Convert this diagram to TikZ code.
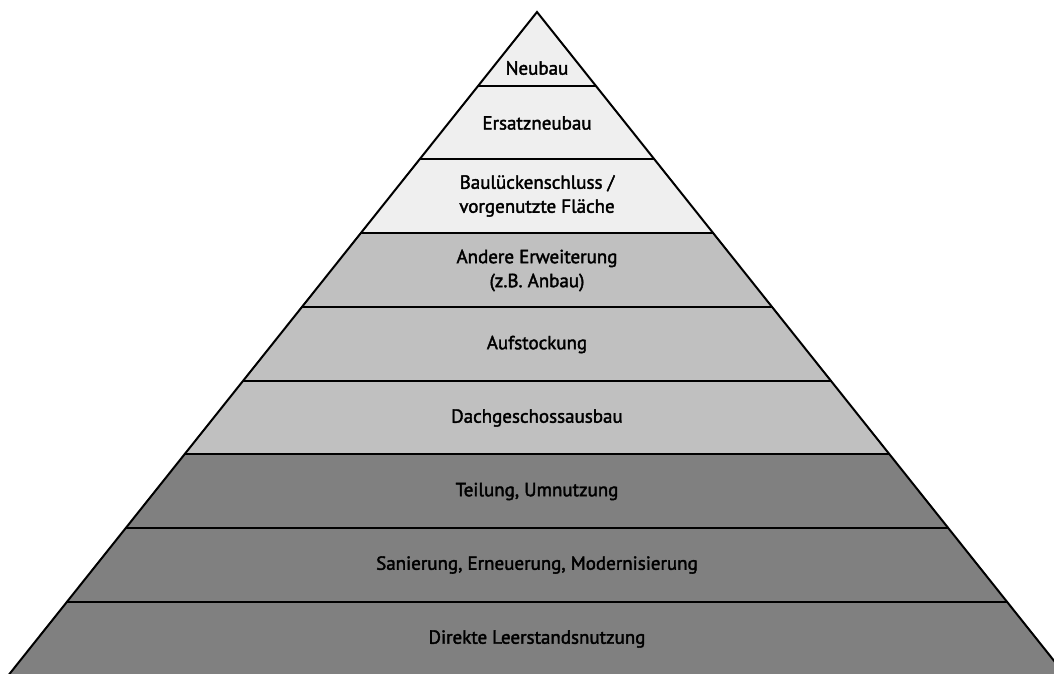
\documentclass[tikz,border=0pt]{standalone}
\usepackage{fontspec}
\setmainfont{PT Sans}[BoldFont={PT Sans}, BoldFeatures={FakeBold=2}]
\usepackage{tikz}
\usetikzlibrary{positioning}
\definecolor{toplight}{HTML}{EFEFEF}
\definecolor{midgray}{HTML}{C0C0C0}
\definecolor{lowgray}{HTML}{808080}
\tikzstyle{lbl} = [font=\fontsize{19}{24}\selectfont\bfseries, align=center, text=black]
\tikzstyle{edge} = [line width=2pt, black]

\begin{document}
\begin{tikzpicture}[x=1pt, y=-1pt]
    \useasboundingbox (0,0) rectangle (1054,673);
    \clip (0,0) rectangle (1054,673);
    \coordinate (apex) at (537,12);
    \coordinate (bl) at (8.4,675.3);
    \coordinate (br) at (1065.6,675.3);
    \begin{scope}
        \clip (apex) -- (bl) -- (br) -- cycle;
        \fill[toplight] (0,0) rectangle (1100,233.1);
        \fill[midgray] (0,233.1) rectangle (1100,454.2);
        \fill[lowgray] (0,454.2) rectangle (1100,680);
        \draw[edge] (0,85.7) -- (1100,85.7);
        \draw[edge] (0,159.4) -- (1100,159.4);
        \draw[edge] (0,233.1) -- (1100,233.1);
        \draw[edge] (0,306.8) -- (1100,306.8);
        \draw[edge] (0,380.5) -- (1100,380.5);
        \draw[edge] (0,454.2) -- (1100,454.2);
        \draw[edge] (0,527.9) -- (1100,527.9);
        \draw[edge] (0,601.6) -- (1100,601.6);
    \end{scope}
    \draw[edge, line join=miter] (bl) -- (apex) -- (br);

    \node (neubau) [lbl] at (537,68) {Neubau};
    \node (ersatz) [lbl] at (537,123) {Ersatzneubau};
    \node (luecke) [lbl] at (537,196) {Baulückenschluss /\\vorgenutzte Fläche};
    \node (anbau) [lbl] at (537,270.5) {Andere Erweiterung\\(z.B. Anbau)};
    \node (aufst) [lbl] at (537,344.5) {Aufstockung};
    \node (dach) [lbl] at (537,418) {Dachgeschossausbau};
    \node (teilung) [lbl] at (537,491.5) {Teilung, Umnutzung};
    \node (sanierung) [lbl] at (537,565) {Sanierung, Erneuerung, Modernisierung};
    \node (leerstand) [lbl] at (537,639) {Direkte Leerstandsnutzung};
\end{tikzpicture}
\end{document}
